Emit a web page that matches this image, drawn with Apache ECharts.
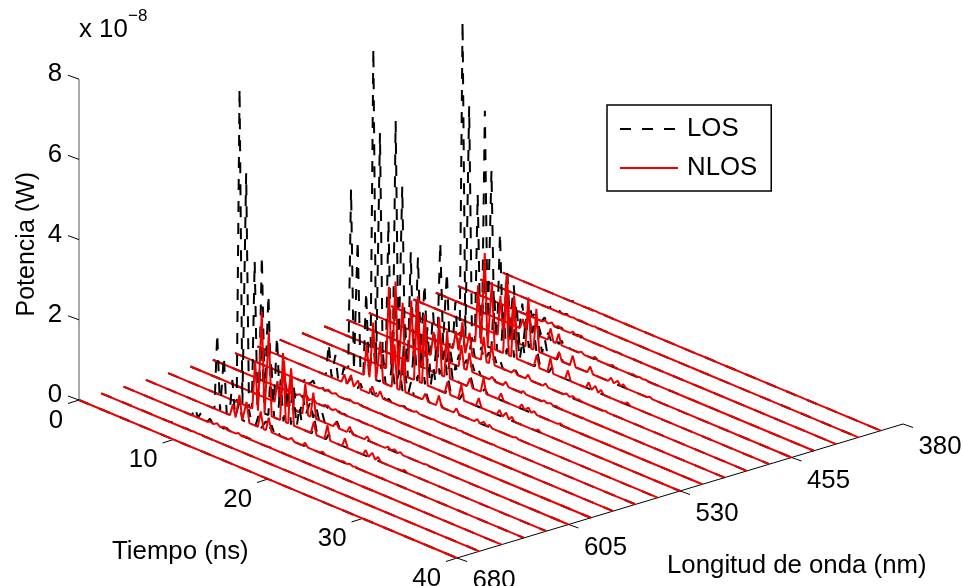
<!DOCTYPE html>
<html>
<head>
<meta charset="utf-8">
<style>
  html, body { margin: 0; padding: 0; background: #fff; }
  #chart { width: 963px; height: 586px; }
</style>
<script src="https://cdn.jsdelivr.net/npm/echarts@6/dist/echarts.min.js"></script>
</head>
<body>
<div id="chart"></div>
<script>
// Tiempo (ns), Longitud de onda (nm), Potencia (x 10^-8 W)
const wavelengths = [680, 665, 650, 635, 620, 605, 590, 575, 560, 545, 530, 515, 500, 485, 470, 455, 440, 425, 410, 395]
const timeEnd = 40
const powerTicks = [0, 2, 4, 6, 8]
const timeTicks = [0, 10, 20, 30, 40]
const waveTicks = [380, 455, 530, 605, 680]

// arrival times of the pulses
const losTimes = [7.55, 8.25, 9.15, 9.9, 10.9, 11.9, 12.7, 13.3, 13.9, 15.5, 17]
const nlosTimes = [9.2, 9.9, 10.65, 12.15, 13, 15.4, 16.85, 18.7, 20.9, 21.6, 22.2, 25]

const los = {
  680: [0, 0, 0, 0, 0, 0, 0, 0, 0, 0, 0],
  665: [.03, .02, .01, .01, 0, 0, 0, 0, 0, 0, 0],
  650: [.23, .17, .1, .05, .04, .03, .02, .02, .01, .01, 0],
  635: [1.9, 1.4, .9, .42, .34, .27, .22, .18, .13, .08, .04],
  620: [7.85, 5.8, 3.7, 1.72, 1.4, 1.02, .86, .7, .55, .35, .16],
  605: [3.5, 2.6, 1.65, .77, .63, .46, .38, .31, .25, .16, .07],
  590: [.3, .22, .14, .07, .05, .04, .03, .03, .02, .01, .01],
  575: [.18, .13, .08, .04, .03, .02, .02, .02, .01, .01, 0],
  560: [.82, .6, .38, .18, .15, .11, .09, .07, .06, .04, .02],
  545: [4.5, 3.3, 2.1, 1, .8, .58, .5, .4, .32, .2, .09],
  530: [7.85, 5.8, 3.7, 1.72, 1.4, 1.02, .86, .7, .55, .35, .16],
  515: [5.86, 4.3, 2.75, 1.3, 1.05, .76, .64, .53, .41, .26, .12],
  500: [2.3, 1.7, 1.08, .5, .41, .3, .25, .2, .16, .1, .05],
  485: [2.5, 1.83, 1.17, .55, .45, .32, .27, .22, .17, .11, .05],
  470: [7.85, 5.8, 3.7, 1.72, 1.4, 1.02, .86, .7, .55, .35, .16],
  455: [5.45, 4.03, 2.56, 1.2, .98, .71, .6, .49, .38, .25, .11],
  440: [1.35, 1, .63, .3, .24, .18, .15, .12, .09, .06, .03],
  425: [.25, .18, .12, .05, .04, .03, .03, .02, .02, .01, .01],
  410: [.08, .06, .04, .02, .01, .01, .01, .01, 0, 0, 0],
  395: [.03, .02, .01, .01, 0, 0, 0, 0, 0, 0, 0]
}

const nlos = {
  680: [0, 0, 0, 0, 0, 0, 0, 0, 0, 0, 0, 0],
  665: [0, .01, .01, 0, 0, 0, 0, 0, 0, 0, 0, 0],
  650: [.03, .06, .05, .04, .03, .01, .01, 0, 0, 0, 0, 0],
  635: [.3, .6, .5, .41, .34, .07, .09, .05, .03, .03, .02, .01],
  620: [1.2, 2.5, 2.07, 1.7, 1.4, .3, .36, .22, .14, .14, .1, .05],
  605: [.54, 1.12, .93, .77, .63, .13, .16, .1, .06, .06, .05, .02],
  590: [.05, .1, .08, .06, .05, .01, .01, .01, .01, 0, 0, 0],
  575: [.03, .06, .05, .04, .03, .01, .01, 0, 0, 0, 0, 0],
  560: [.21, .26, .2, .2, .16, .03, .04, .02, .02, .02, .01, .01],
  545: [.78, 1.4, 1, 1.08, .88, .17, .27, .13, .08, .08, .06, .03],
  530: [2.06, 2.26, 1.8, 1.9, 1.55, .3, .37, .22, .14, .14, .1, .05],
  515: [1.55, 1.72, 1.35, 1.42, 1.16, .22, .37, .17, .11, .1, .07, .04],
  500: [.6, .67, .53, .56, .45, .09, .11, .06, .04, .04, .03, .01],
  485: [.45, .75, .55, .6, .5, .1, .12, .08, .05, .05, .03, .02],
  470: [1.43, 2.3, 1.65, 1.8, 1.5, .3, .37, .24, .16, .14, .1, .06],
  455: [1, 1.6, 1.15, 1.25, 1.05, .21, .26, .17, .11, .1, .07, .04],
  440: [.25, .4, .28, .31, .26, .05, .06, .04, .03, .02, .02, .01],
  425: [.05, .07, .05, .06, .05, .01, .01, .01, 0, 0, 0, 0],
  410: [.01, .02, .02, .02, .01, 0, 0, 0, 0, 0, 0, 0],
  395: [0, .01, .01, 0, 0, 0, 0, 0, 0, 0, 0, 0]
}

// view of the 3d box on the page
const originX = 79, originY = 400
const timeDx = 9.45, timeDy = 3.95
const waveDx = 1.4867, waveDy = -0.4467
const powerDy = -40.1
const halfPulse = 0.3
const fontSize = 25.8

function project(t, wl, p) {
  return [
    originX + timeDx * t + waveDx * (680 - wl),
    originY + timeDy * t + waveDy * (680 - wl) + powerDy * p
  ]
}

function spectrum(times, values, wl) {
  const pts = [project(0, wl, 0)]
  times.forEach((t, i) => {
    pts.push(project(t - halfPulse, wl, 0))
    pts.push(project(t, wl, values[i]))
    pts.push(project(t + halfPulse, wl, 0))
  })
  pts.push(project(timeEnd, wl, 0))
  return pts
}

function axisLine(from, to, color) {
  return {
    type: 'line', silent: true, symbol: 'none', data: [from, to],
    lineStyle: { color: color, width: 1 }, legendHoverLink: false
  }
}

function tickSeries(points, dx, dy, color) {
  return points.map(p => axisLine(p, [p[0] + dx, p[1] + dy], color))
}

function tickLabels(points, texts, offset, align) {
  return {
    type: 'scatter', silent: true, symbolSize: 0,
    itemStyle: { opacity: 1 },
    data: points.map((p, i) => ({ value: p, name: String(texts[i]) })),
    label: {
      show: true, position: 'inside', offset: offset, align: align, verticalAlign: 'middle',
      formatter: '{b}', color: '#000', fontSize: fontSize, fontFamily: 'Liberation Sans'
    }
  }
}

const powerPts = powerTicks.map(p => project(0, 680, p))
const timePts = timeTicks.map(t => project(t, 680, 0))
const wavePts = waveTicks.map(w => project(timeEnd, w, 0))

const series = [
  axisLine(project(0, 680, 0), project(0, 680, 8), '#555'),
  axisLine(project(0, 680, 0), project(timeEnd, 680, 0), '#000'),
  axisLine(project(timeEnd, 680, 0), project(timeEnd, 380, 0), '#000'),
  ...tickSeries(powerPts, -11, -4, '#000'),
  ...tickSeries(timePts, -11, 3.5, '#000'),
  ...tickSeries(wavePts, 10, 3.5, '#000'),
  tickLabels(powerPts, powerTicks, [-17, -5], 'right'),
  tickLabels(timePts, timeTicks, [-16, 20.5], 'right'),
  tickLabels(wavePts, waveTicks, [37, 23], 'center')
]

// far lines first so that the near ones cover them
wavelengths.slice().reverse().forEach(wl => {
  series.push({
    name: 'LOS', type: 'line', symbol: 'none', silent: true,
    data: spectrum(losTimes, los[wl], wl),
    lineStyle: { color: '#000', width: 2, type: [11, 11] }
  })
  series.push({
    name: 'NLOS', type: 'line', symbol: 'none', silent: true,
    data: spectrum(nlosTimes, nlos[wl], wl),
    lineStyle: { color: '#ee0000', width: 2 }
  })
})

const titleFont = { fontFamily: 'Liberation Sans', fill: '#000', fontSize: fontSize }

const chart = echarts.init(document.getElementById('chart'))
chart.setOption({
  animation: false,
  grid: { left: 0, right: 0, top: 0, bottom: 0 },
  xAxis: { type: 'value', min: 0, max: 963, show: false },
  yAxis: { type: 'value', min: 0, max: 586, inverse: true, show: false },
  legend: {
    data: ['LOS', 'NLOS'], orient: 'vertical', left: 607, top: 105,
    padding: [10, 14, 9, 12], itemWidth: 58, itemHeight: 14, itemGap: 11,
    borderColor: '#000', borderWidth: 1.5, selectedMode: false,
    itemStyle: { opacity: 0 },
    textStyle: { fontSize: fontSize, lineHeight: 28, color: '#000', fontFamily: 'Liberation Sans', padding: [0, 0, 0, 4] }
  },
  graphic: [
    { type: 'text', left: 79, top: 17, style: { ...titleFont, text: 'x 10' } },
    { type: 'text', left: 128, top: 8, style: { ...titleFont, text: '\u22128', fontSize: 17 } },
    { type: 'text', left: 112, top: 539, style: { ...titleFont, text: 'Tiempo (ns)' } },
    { type: 'text', left: 667, top: 553, style: { ...titleFont, text: 'Longitud de onda (nm)' } },
    { type: 'text', left: 15, top: 172, rotation: Math.PI / 2, style: { ...titleFont, text: 'Potencia (W)', fontSize: 25 } }
  ],
  series: series
})
</script>
</body>
</html>
